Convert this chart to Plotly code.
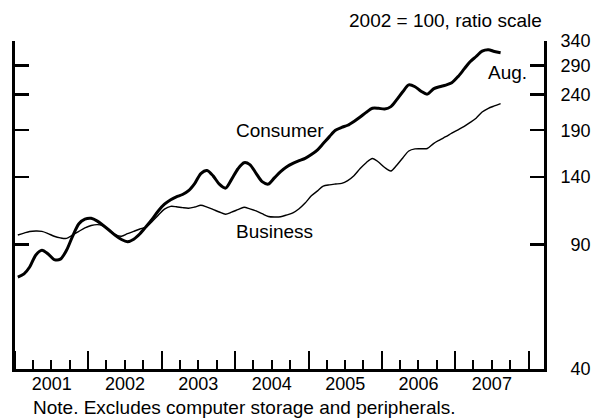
import math
import pandas as pd
import plotly.graph_objects as go

# Monthly index, 2002 = 100 (Jan 2001 - Aug 2007)
months = pd.date_range("2001-01-01", periods=80, freq="MS") + pd.Timedelta(days=14)

consumer = [
    72.8, 74.4, 77.8, 84.2, 86.8, 84.7, 81.7, 81.9, 86.9, 95.2, 103.2, 106.3,
    106.9, 105.0, 102.2, 98.9, 95.7, 93.1, 91.8, 93.3, 96.7, 101.2, 106.3, 112.2,
    117.2, 120.7, 123.0, 124.9, 128.0, 134.3, 143.2, 146.1, 140.8, 133.6, 130.2, 137.8,
    147.5, 153.7, 151.8, 143.4, 135.8, 133.7, 139.2, 145.0, 149.7, 153.0, 155.7, 158.1,
    162.1, 167.2, 174.1, 182.2, 189.9, 193.5, 196.2, 201.2, 207.1, 213.4, 219.2, 219.2,
    218.2, 221.6, 231.5, 244.2, 255.3, 252.3, 245.0, 240.4, 248.8, 252.3, 255.0, 259.0,
    269.5, 283.4, 296.6, 307.3, 318.3, 321.2, 317.5, 315.0,
]

business = [
    95.9, 97.1, 98.1, 98.4, 98.2, 96.8, 95.1, 94.1, 93.8, 95.9, 98.2, 100.4,
    102.0, 102.6, 101.8, 99.1, 96.1, 95.1, 96.7, 98.2, 99.7, 101.0, 104.8, 109.1,
    113.5, 115.6, 115.3, 114.6, 114.2, 115.1, 116.4, 115.0, 113.2, 111.4, 109.8, 111.3,
    113.1, 114.9, 113.7, 112.2, 110.2, 108.2, 107.8, 108.0, 109.3, 110.8, 113.8, 118.1,
    123.8, 127.9, 131.8, 133.0, 133.7, 134.3, 136.8, 141.2, 147.9, 153.7, 158.0, 154.4,
    148.9, 145.6, 150.9, 158.5, 165.9, 168.2, 168.4, 168.6, 174.1, 178.2, 182.1, 186.3,
    190.5, 194.9, 199.6, 205.5, 214.0, 219.2, 222.6, 226.0,
]

y_ticks = [40, 90, 140, 190, 240, 290, 340]
y_ticktext = ["\u200740", "\u200790", "140", "190", "240", "290", "340"]
top_tick = [340]

FONT = "Liberation Sans, Arial, Helvetica, sans-serif"

fig = go.Figure()
fig.add_trace(go.Scatter(
    x=months, y=consumer, mode="lines", name="Consumer",
    line=dict(color="black", width=3, shape="spline", smoothing=0.8),
    yaxis="y", showlegend=False, hoverinfo="skip",
))
fig.add_trace(go.Scatter(
    x=months, y=business, mode="lines", name="Business",
    line=dict(color="black", width=1.4, shape="spline", smoothing=0.8),
    yaxis="y2", showlegend=False, hoverinfo="skip",
))

yr = [math.log10(40), math.log10(340)]

fig.update_layout(
    width=603, height=420,
    margin=dict(l=14, r=58, t=41, b=51),
    paper_bgcolor="white", plot_bgcolor="white",
    font=dict(family=FONT, size=18, color="black"),
    xaxis=dict(
        type="date",
        range=["2001-01-01", "2008-03-18"],
        tick0="2001-01-01", dtick="M12", tickformat="%Y",
        ticklabelmode="period",
        ticks="inside", ticklen=18, tickwidth=2, tickcolor="black",
        showline=True, linewidth=3, linecolor="black",
        showgrid=False, zeroline=False,
        tickfont=dict(size=18),
        ticklabelstandoff=-4,
        minor=dict(dtick="M3", ticks="inside", ticklen=9, tickwidth=2,
                   tickcolor="black", showgrid=False),
    ),
    yaxis=dict(
        type="log", range=yr, side="right",
        tickvals=y_ticks, ticktext=y_ticktext,
        ticks="inside", ticklen=14, tickwidth=2.5, tickcolor="black",
        showline=True, linewidth=3, linecolor="black", mirror="ticks",
        showgrid=False, zeroline=False,
        ticklabelstandoff=10,
        tickfont=dict(size=18),
    ),
    yaxis2=dict(
        type="log", range=yr, side="right", overlaying="y",
        tickvals=top_tick, showticklabels=False,
        ticks="inside", ticklen=24, tickwidth=2.5, tickcolor="black",
        showline=True, linewidth=3, linecolor="black", mirror="ticks",
        showgrid=False, zeroline=False,
    ),
)

ann_font = dict(family=FONT, size=19, color="black")
fig.add_annotation(text="2002 = 100, ratio scale", xref="paper", yref="paper",
                   x=1.0, y=1 + 21 / 328, xanchor="right", yanchor="middle",
                   showarrow=False, font=ann_font)
fig.add_annotation(text="Consumer", xref="paper", yref="paper",
                   x=0.5, y=0.728, xanchor="center", yanchor="middle",
                   showarrow=False, font=ann_font)
fig.add_annotation(text="Business", xref="paper", yref="paper",
                   x=0.4906, y=0.42, xanchor="center", yanchor="middle",
                   showarrow=False, font=ann_font)
fig.add_annotation(text="Aug.", xref="paper", yref="paper",
                   x=0.931, y=0.903, xanchor="center", yanchor="middle",
                   showarrow=False, font=ann_font)
fig.add_annotation(text="Note. Excludes computer storage and peripherals.",
                   xref="paper", yref="paper", x=0.03, y=-0.118,
                   xanchor="left", yanchor="middle",
                   showarrow=False, font=ann_font)

fig.write_html(
    "out.html",
    config={"displayModeBar": False, "staticPlot": True},
    post_script="document.body.style.margin='0';document.body.style.overflow='hidden';",
)
